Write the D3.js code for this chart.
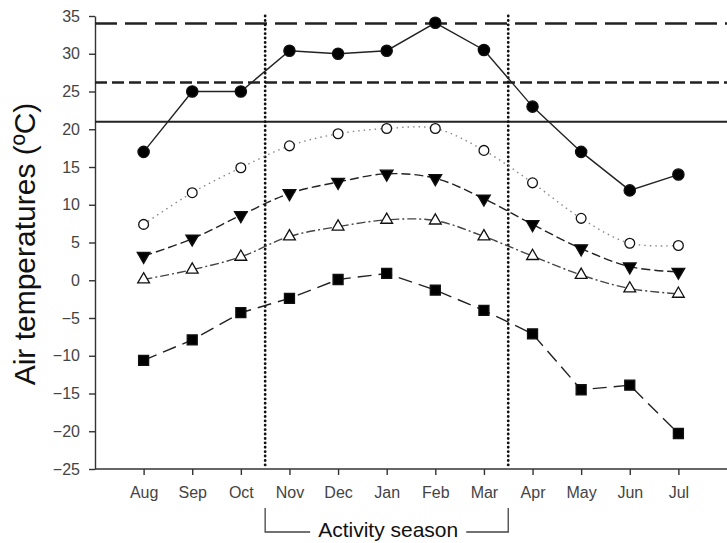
<!DOCTYPE html>
<html lang="en">
<head>
<meta charset="UTF-8">
<title>Air temperatures</title>
<script src="https://d3js.org/d3.v7.min.js"></script>
<style>
    body { margin: 0; background: #fff; }
    svg { display: block; font-family: "Liberation Sans", Arial, sans-serif; }
    .tick text { fill: #444; }
</style>
</head>
<body>
<div id="chart"></div>
<script>
// Months on the x axis
const months = ["Aug", "Sep", "Oct", "Nov", "Dec", "Jan", "Feb", "Mar", "Apr", "May", "Jun", "Jul"];
const yTicks = [-25, -20, -15, -10, -5, 0, 5, 10, 15, 20, 25, 30, 35];

// Series (ºC)
const absMax  = [17, 25, 25, 30.4, 30, 30.4, 34.1, 30.5, 23, 17, 11.9, 14];
const meanMax = [7.4, 11.6, 14.9, 17.8, 19.4, 20.1, 20.1, 17.2, 12.9, 8.2, 4.9, 4.6];
const meanT   = [3.2, 5.5, 8.6, 11.5, 13.0, 14.1, 13.5, 10.8, 7.4, 4.2, 1.8, 1.1];
const meanMin = [0.1, 1.4, 3.1, 5.8, 7.1, 8.0, 7.9, 5.8, 3.2, 0.7, -1.1, -1.8];
const absMin  = [-10.6, -7.9, -4.3, -2.4, 0.1, 0.9, -1.3, -4.0, -7.1, -14.5, -13.9, -20.3];

// Horizontal reference temperatures and activity season limits (month index)
const refLines = [
    {value: 34, dash: "22,8", width: 2.5},
    {value: 26.2, dash: "12,5", width: 2.5},
    {value: 21, dash: null, width: 2}
];
const season = [2.5, 7.5];

const W = 727, H = 543;
const svg = d3.select("#chart").append("svg")
    .attr("width", W)
    .attr("height", H);

const x = d3.scaleLinear().domain([-1, 12]).range([95, 727]);
const y = d3.scaleLinear().domain([-25, 35]).range([469, 16]);

// axes
const yAxis = svg.append("g")
    .attr("transform", `translate(${x(-1)},0)`)
    .call(d3.axisLeft(y).tickValues(yTicks).tickSize(6).tickPadding(9).tickSizeOuter(0));
const xAxis = svg.append("g")
    .attr("transform", `translate(0,${y(-25)})`)
    .call(d3.axisBottom(x).tickValues(d3.range(12)).tickFormat(i => months[i])
        .tickSize(6).tickPadding(12).tickSizeOuter(0));
[yAxis, xAxis].forEach(g => {
    g.selectAll("text").style("font-size", "16px");
    g.selectAll("path, line").attr("stroke", "#333").attr("stroke-width", 1.4);
});
xAxis.select(".domain").attr("d", `M${x(-1)},0H${W}`);

// reference lines
svg.selectAll(".ref")
    .data(refLines)
    .enter().append("line")
    .attr("x1", x(-1)).attr("x2", W)
    .attr("y1", d => y(d.value)).attr("y2", d => y(d.value))
    .attr("stroke", "#222")
    .attr("stroke-width", d => d.width)
    .attr("stroke-dasharray", d => d.dash);

// activity season limits (round dots)
svg.selectAll(".season")
    .data(season)
    .enter().append("line")
    .attr("x1", d => x(d)).attr("x2", d => x(d))
    .attr("y1", y(35)).attr("y2", y(-25))
    .attr("stroke", "#111")
    .attr("stroke-width", 2.8)
    .attr("stroke-linecap", "round")
    .attr("stroke-dasharray", "0.1,4.3");

// series
const series = [
    {values: absMin,  symbol: d3.symbolSquare,   size: 100, fill: "#000", dash: "14,7", stroke: "#222", curve: d3.curveLinear, rot: 0},
    {values: meanMin, symbol: d3.symbolTriangle, size: 60,  fill: "#fff", dash: "9,3,2,3", stroke: "#444", curve: d3.curveCatmullRom, rot: 0},
    {values: meanT,   symbol: d3.symbolTriangle, size: 70,  fill: "#000", dash: "9,4", stroke: "#222", curve: d3.curveCatmullRom, rot: 180},
    {values: meanMax, symbol: d3.symbolCircle,   size: 75,  fill: "#fff", dash: "1.5,4", stroke: "#888", curve: d3.curveCatmullRom, rot: 0},
    {values: absMax,  symbol: d3.symbolCircle,   size: 100, fill: "#000", dash: null, stroke: "#222", curve: d3.curveLinear, rot: 0}
];

series.forEach(s => {
    const line = d3.line()
        .x((d, i) => x(i))
        .y(d => y(d))
        .curve(s.curve);
    svg.append("path")
        .datum(s.values)
        .attr("d", line)
        .attr("fill", "none")
        .attr("stroke", s.stroke)
        .attr("stroke-width", 1.4)
        .attr("stroke-dasharray", s.dash);
    svg.selectAll(null)
        .data(s.values)
        .enter().append("path")
        .attr("d", d3.symbol().type(s.symbol).size(s.size))
        .attr("transform", (d, i) => `translate(${x(i)},${y(d)}) rotate(${s.rot})`)
        .attr("fill", s.fill)
        .attr("stroke", "#111")
        .attr("stroke-width", 1.3);
});

// y axis title
svg.append("text")
    .attr("transform", `translate(35,244) rotate(-90)`)
    .attr("text-anchor", "middle")
    .style("font-size", "30px")
    .attr("fill", "#111")
    .text("Air temperatures (ºC)");

// activity season bracket
const bx0 = x(season[0]), bx1 = x(season[1]), bTop = 508, bBot = 532;
svg.append("path")
    .attr("d", `M${bx0},${bTop}V${bBot}H${bx0 + 45}M${bx1 - 42},${bBot}H${bx1}V${bTop}`)
    .attr("fill", "none")
    .attr("stroke", "#444")
    .attr("stroke-width", 1.3);
svg.append("text")
    .attr("x", (bx0 + 45 + bx1 - 42) / 2)
    .attr("y", 537)
    .attr("text-anchor", "middle")
    .style("font-size", "21px")
    .attr("fill", "#111")
    .text("Activity season");
</script>
</body>
</html>
